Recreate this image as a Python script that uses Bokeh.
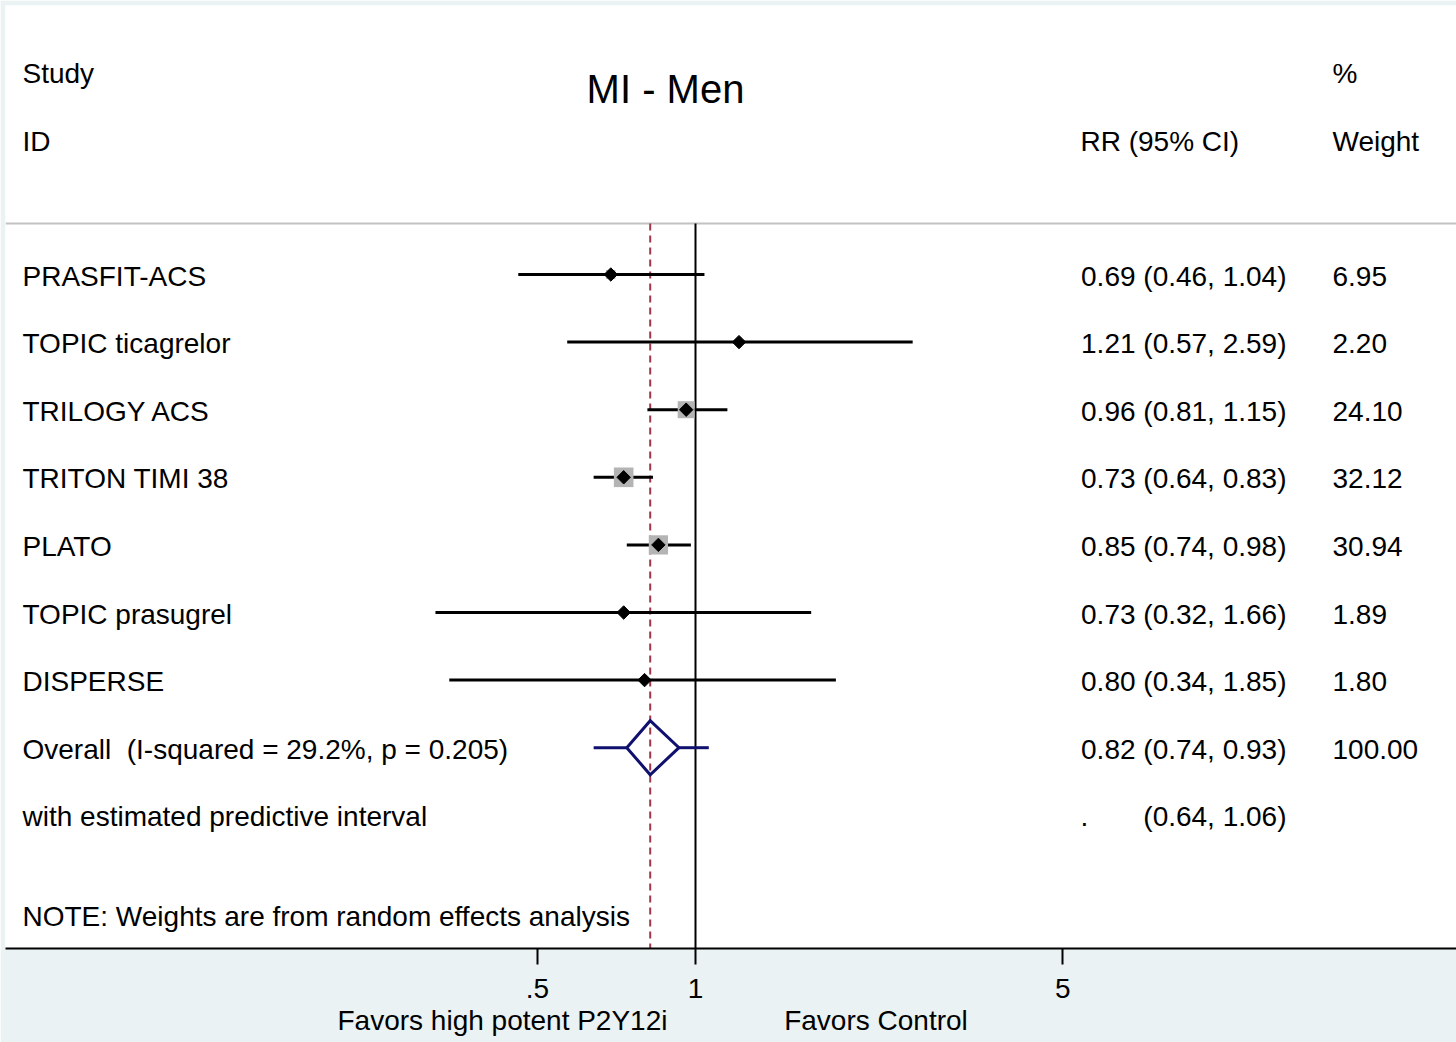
import numpy as np
from bokeh.plotting import figure
from bokeh.models import Range1d, FixedTicker, Title
from bokeh.core.properties import value
from bokeh.embed import file_html
from bokeh.resources import INLINE

# ---- data -------------------------------------------------------------
studies = ["PRASFIT-ACS", "TOPIC ticagrelor", "TRILOGY ACS", "TRITON TIMI 38",
           "PLATO", "TOPIC prasugrel", "DISPERSE"]
rr = [0.69, 1.21, 0.96, 0.73, 0.85, 0.73, 0.80]
ci_low = [0.46, 0.57, 0.81, 0.64, 0.74, 0.32, 0.34]
ci_high = [1.04, 2.59, 1.15, 0.83, 0.98, 1.66, 1.85]
weights = [6.95, 2.20, 24.10, 32.12, 30.94, 1.89, 1.80]

overall_rr = 0.82
overall_low = 0.74
overall_high = 0.93
pred_low = 0.64
pred_high = 1.06
i_squared = 29.2
p_het = 0.205

tick_values = [0.5, 1, 5]
tick_labels = [".5", "1", "5"]
favors_left = "Favors high potent P2Y12i"
favors_right = "Favors Control"

# ---- layout helpers (canvas pixels -> data coordinates) ----------------
W, H = 1456, 1042
LEFT, TOP, BOTTOM = 5, 5, 94
X_ONE_PX = 695          # canvas x where RR = 1
DECADE_PX = 525.5       # pixels per decade on the log axis
ROW0_PX = 274           # canvas y of the first study row
ROW_PX = 67.6           # row spacing


def xd(px):
    return 10 ** ((px - X_ONE_PX) / DECADE_PX)


def yd(px):
    return (px - ROW0_PX) / ROW_PX


x_start, x_end = xd(LEFT), xd(W)
y_bottom, y_top = yd(H - BOTTOM), yd(TOP)

FONT = value("Liberation Sans")
FS = "28px"
NAVY = "#10106E"
RED = "#A0384A"

p = figure(width=W, height=H, x_axis_type="log",
           x_range=Range1d(x_start, x_end), y_range=Range1d(y_bottom, y_top),
           output_backend="svg", toolbar_location=None,
           min_border_left=LEFT, min_border_right=0,
           min_border_top=TOP, min_border_bottom=BOTTOM,
           y_axis_location=None)
p.border_fill_color = "#EAF2F3"
p.background_fill_color = "white"
p.outline_line_color = None
p.xgrid.grid_line_color = None
p.ygrid.grid_line_color = None

ax = p.xaxis[0]
ax.ticker = FixedTicker(ticks=tick_values, minor_ticks=[])
ax.major_label_overrides = {v: t for v, t in zip(tick_values, tick_labels)}
ax.axis_line_color = "black"
ax.axis_line_width = 2
ax.major_tick_line_color = "black"
ax.major_tick_line_width = 2
ax.major_tick_out = 16
ax.major_tick_in = 0
ax.minor_tick_line_color = None
ax.major_label_text_font = "Liberation Sans"
ax.major_label_text_font_size = FS
ax.major_label_text_color = "black"
ax.major_label_standoff = 14

# direction labels on one line under the tick labels
gap = "\u00a0" * 15
p.add_layout(Title(text=favors_left + gap + favors_right, align="left",
                   offset=332, standoff=5,
                   text_font="Liberation Sans", text_font_size=FS,
                   text_font_style="normal", text_color="black"), "below")

n = len(studies)
rows = list(range(n))
row_overall = n
row_pred = n + 1
row_note = n + 2.5
sep_y = yd(223)

# header separator and reference lines
p.segment(x0=[x_start], x1=[x_end], y0=[sep_y], y1=[sep_y],
          line_color="#C2C2C2", line_width=2)
p.segment(x0=[overall_rr], x1=[overall_rr], y0=[sep_y], y1=[y_bottom],
          line_color=RED, line_width=2, line_dash="7 5")
p.segment(x0=[1], x1=[1], y0=[sep_y], y1=[y_bottom],
          line_color="black", line_width=2)

# study confidence intervals, weight boxes, point estimates
p.segment(x0=ci_low, x1=ci_high, y0=rows, y1=rows,
          line_color="black", line_width=3)
box_size = [3.46 * np.sqrt(w) for w in weights]
p.scatter(x=rr, y=rows, size=box_size, marker="square",
          fill_color="#B4B4B4", line_color=None)
p.scatter(x=rr, y=rows, size=9.5, marker="square", angle=np.pi / 4,
          fill_color="black", line_color="black", line_width=1)

# pooled estimate: predictive interval and diamond
half_h = 0.40
p.segment(x0=[pred_low, overall_high], x1=[overall_low, pred_high],
          y0=[row_overall, row_overall], y1=[row_overall, row_overall],
          line_color=NAVY, line_width=3)
p.patch(x=[overall_low, overall_rr, overall_high, overall_rr],
        y=[row_overall, row_overall - half_h, row_overall, row_overall + half_h],
        fill_color=None, line_color=NAVY, line_width=3, line_join="miter")

# text columns
col_label, rr_left, rr_right, wt_left = xd(22), xd(1080), xd(1286), xd(1332)
txt_dy = 1.5 / ROW_PX

label_text = studies + [
    f"Overall\u00a0 (I-squared = {i_squared:.1f}%, p = {p_het:.3f})",
    "with estimated predictive interval",
    "NOTE: Weights are from random effects analysis",
]
label_y = [r + txt_dy for r in rows + [row_overall, row_pred]] + [row_note]
p.text(x=[col_label] * len(label_text), y=label_y, text=label_text,
       text_font=FONT, text_font_size=FS, text_align="left",
       text_baseline="middle", text_color="black")

rr_text = [f"{e:.2f} ({lo:.2f}, {hi:.2f})" for e, lo, hi in zip(rr, ci_low, ci_high)]
rr_text += [f"{overall_rr:.2f} ({overall_low:.2f}, {overall_high:.2f})",
            f"({pred_low:.2f}, {pred_high:.2f})"]
p.text(x=[rr_right] * len(rr_text),
       y=[r + txt_dy for r in rows + [row_overall, row_pred]], text=rr_text,
       text_font=FONT, text_font_size=FS, text_align="right",
       text_baseline="middle", text_color="black")
p.text(x=[rr_left], y=[row_pred + txt_dy], text=["."],
       text_font=FONT, text_font_size=FS, text_align="left",
       text_baseline="middle", text_color="black")

wt_text = [f"{w:.2f}" for w in weights] + ["100.00"]
p.text(x=[wt_left] * len(wt_text),
       y=[r + txt_dy for r in rows + [row_overall]], text=wt_text,
       text_font=FONT, text_font_size=FS, text_align="left",
       text_baseline="middle", text_color="black")

# headers and title
hdr1, hdr2 = yd(73), yd(141)
p.text(x=[col_label, wt_left, col_label, rr_left, wt_left],
       y=[hdr1, hdr1, hdr2, hdr2, hdr2],
       text=["Study", "%", "ID", "RR (95% CI)", "Weight"],
       text_font=FONT, text_font_size=FS, text_align="left",
       text_baseline="middle", text_color="black")
p.text(x=[xd(665)], y=[yd(88)], text=["MI - Men"],
       text_font=FONT, text_font_size="40px", text_align="center",
       text_baseline="middle", text_color="black")

open("out.html", "w").write(file_html(p, INLINE))
